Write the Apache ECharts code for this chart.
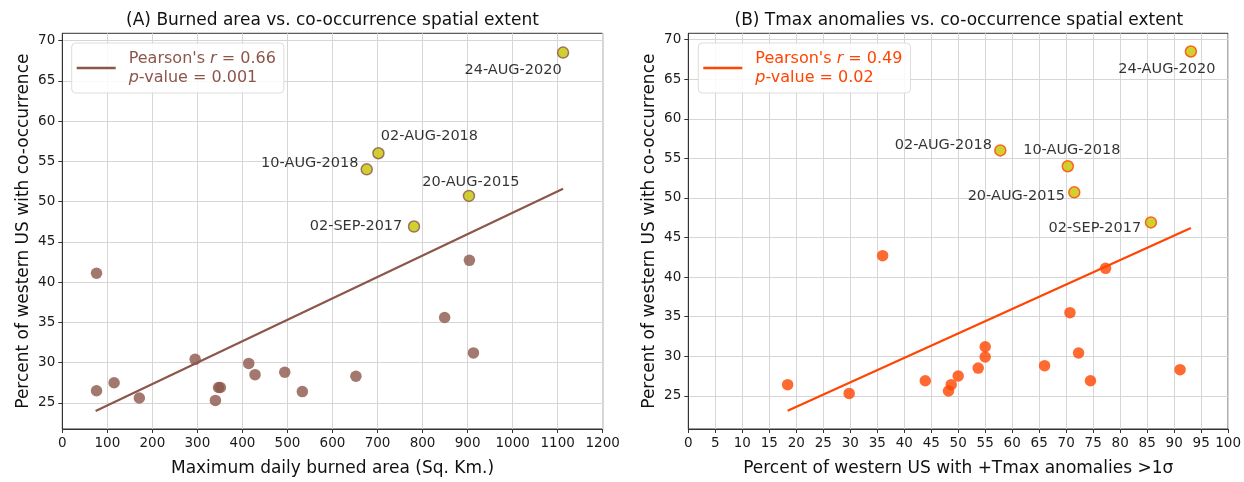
<!DOCTYPE html>
<html>
<head>
<meta charset="utf-8">
<script src="https://cdn.jsdelivr.net/npm/echarts@6/dist/echarts.min.js"></script>
<style>
  html, body { margin: 0; padding: 0; background: #fff; }
  #chart { width: 1244px; height: 482px; }
</style>
</head>
<body>
<div id="chart"></div>
<script>
// --- data ---
// ordinary days (brown / orange dots)
const burnedArea = [76, 76, 115, 171, 295, 347, 351, 340, 414, 428, 494, 533, 652, 904, 849, 913];
const coocA = [41.1, 26.5, 27.5, 25.6, 30.4, 26.9, 26.9, 25.3, 29.9, 28.5, 28.8, 26.4, 28.3, 42.7, 35.6, 31.2];
const tmaxPct = [18.4, 29.8, 36.0, 43.9, 48.7, 48.2, 50.0, 53.7, 55.0, 55.0, 66.0, 70.7, 72.3, 74.5, 77.3, 91.1];
const coocB = [26.4, 25.3, 42.7, 26.9, 26.4, 25.6, 27.5, 28.5, 31.2, 29.9, 28.8, 35.5, 30.4, 26.9, 41.1, 28.3];

// highlighted events (yellow dots)
const eventDates = ['24-AUG-2020', '02-AUG-2018', '10-AUG-2018', '20-AUG-2015', '02-SEP-2017'];
const eventBurned = [1112, 702, 676, 903, 781];
const eventTmax = [93.1, 57.8, 70.3, 71.5, 85.7];
const eventCooc = [68.5, 56.0, 54.0, 50.7, 46.9];

// regression lines (end points)
const fitAX = [74, 1112];
const fitAY = [24.0, 51.6];
const fitBX = [18.4, 93.1];
const fitBY = [23.1, 46.2];

const pearsonR = ['0.66', '0.49'];
const pValue = ['0.001', '0.02'];

const yTicks = [25, 30, 35, 40, 45, 50, 55, 60, 65, 70];

// label placement of the event names (pixel offsets from the dot)
const labelOffsetA = [[-50, 18], [51, -17], [-57, -6], [2, -14], [-58, 0]];
const labelOffsetB = [[-24, 18], [-57, -5], [4, -16], [-58, 4], [-56, 6]];

const FONT = 'DejaVu Sans';
const BROWN = '#8c564b';
const ORANGE = '#ff4500';

const zip = (a, b) => a.map((v, i) => [v, b[i]]);

const chart = echarts.init(document.getElementById('chart'));

function xAxisCfg(idx, min, max, interval, name) {
  return {
    type: 'value', gridIndex: idx, min, max, interval,
    name, nameLocation: 'middle', nameGap: 31,
    nameTextStyle: { fontFamily: FONT, fontSize: 17, color: '#111' },
    axisLine: { show: true, onZero: false, lineStyle: { color: '#333' } },
    axisTick: { show: true, length: 4, lineStyle: { color: '#333' } },
    axisLabel: {
      fontFamily: FONT, fontSize: 13.5, color: '#1a1a1a', margin: 7,
      showMinLabel: true, showMaxLabel: true,
      formatter: v => String(v)
    },
    splitLine: { show: true, lineStyle: { color: '#d6d6d6', width: 1 } }
  };
}

function yAxisCfg(idx, min, max) {
  return {
    type: 'value', gridIndex: idx, min, max,
    name: 'Percent of western US with co-occurrence',
    nameLocation: 'middle', nameGap: 30,
    nameTextStyle: { fontFamily: FONT, fontSize: 17, color: '#111' },
    axisLine: { show: true, onZero: false, lineStyle: { color: '#333' } },
    axisTick: { show: true, length: 4, customValues: yTicks, lineStyle: { color: '#333' } },
    axisLabel: { fontFamily: FONT, fontSize: 13.5, color: '#1a1a1a', margin: 7, customValues: yTicks },
    splitLine: { show: true, lineStyle: { color: '#d6d6d6', width: 1 } }
  };
}

function legendCfg(left, seriesName, color, k) {
  return {
    left, top: 43, orient: 'vertical',
    data: [seriesName],
    icon: 'rect', itemWidth: 39, itemHeight: 2.5,
    padding: [6, 8, 6, 5],
    borderColor: '#dddddd', borderWidth: 1, borderRadius: 4,
    backgroundColor: 'rgba(255,255,255,0.85)',
    textStyle: {
      color, fontFamily: FONT, fontSize: 16, lineHeight: 19, padding: [0, 0, 0, 8],
      rich: {
        n: { color, fontFamily: FONT, fontSize: 16, lineHeight: 19 },
        i: { color, fontFamily: FONT, fontSize: 16, lineHeight: 19, fontStyle: 'italic' }
      }
    },
    formatter: () => "{n|Pearson's }{i|r}{n| = " + pearsonR[k] + "}\n{i|p}{n|-value = " + pValue[k] + "}"
  };
}

function eventSeries(idx, xs, color, offsets) {
  return {
    type: 'scatter', xAxisIndex: idx, yAxisIndex: idx, z: 4,
    symbolSize: 11,
    itemStyle: { color: '#c4c400', borderColor: color, borderWidth: 1.5 },
    data: xs.map((x, i) => ({
      value: [x, eventCooc[i]],
      label: {
        show: true, position: 'inside', offset: offsets[i],
        formatter: eventDates[i],
        fontFamily: FONT, fontSize: 14.5, color: '#000',
        textBorderWidth: 0
      }
    }))
  };
}

const option = {
  backgroundColor: '#fff',
  animation: false,
  graphic: [
    { type: 'text', x: 332.5, y: 21, style: { text: '(A) Burned area vs. co-occurrence spatial extent', font: '17px "DejaVu Sans"', fill: '#111', align: 'center', verticalAlign: 'middle' } },
    { type: 'text', x: 958.8, y: 21, style: { text: '(B) Tmax anomalies vs. co-occurrence spatial extent', font: '17px "DejaVu Sans"', fill: '#111', align: 'center', verticalAlign: 'middle' } }
  ],
  grid: [
    { left: 62.3, right: 641.3, top: 33.3, bottom: 45.3, show: true, borderColor: '#333', borderWidth: 1, backgroundColor: 'transparent' },
    { left: 688.3, right: 14.7, top: 33.3, bottom: 44.3, show: true, borderColor: '#333', borderWidth: 1, backgroundColor: 'transparent' }
  ],
  xAxis: [
    xAxisCfg(0, 0, 1200, 100, 'Maximum daily burned area (Sq. Km.)'),
    xAxisCfg(1, 0, 100, 5, 'Percent of western US with +Tmax anomalies >1\u03c3')
  ],
  yAxis: [
    yAxisCfg(0, 21.75, 70.9),
    yAxisCfg(1, 20.8, 70.8)
  ],
  legend: [
    legendCfg(71.7, 'fitA', BROWN, 0),
    legendCfg(698.3, 'fitB', ORANGE, 1)
  ],
  series: [
    {
      name: 'fitA', type: 'line', xAxisIndex: 0, yAxisIndex: 0, z: 2,
      showSymbol: false, symbol: 'none', color: BROWN,
      lineStyle: { color: BROWN, width: 2.2 },
      data: zip(fitAX, fitAY)
    },
    {
      type: 'scatter', xAxisIndex: 0, yAxisIndex: 0, z: 3,
      symbolSize: 11.5,
      itemStyle: { color: BROWN, opacity: 0.8 },
      data: zip(burnedArea, coocA)
    },
    eventSeries(0, eventBurned, BROWN, labelOffsetA),
    {
      name: 'fitB', type: 'line', xAxisIndex: 1, yAxisIndex: 1, z: 2,
      showSymbol: false, symbol: 'none', color: ORANGE,
      lineStyle: { color: ORANGE, width: 2.2 },
      data: zip(fitBX, fitBY)
    },
    {
      type: 'scatter', xAxisIndex: 1, yAxisIndex: 1, z: 3,
      symbolSize: 11.5,
      itemStyle: { color: ORANGE, opacity: 0.8 },
      data: zip(tmaxPct, coocB)
    },
    eventSeries(1, eventTmax, ORANGE, labelOffsetB)
  ]
};

chart.setOption(option);
</script>
</body>
</html>
